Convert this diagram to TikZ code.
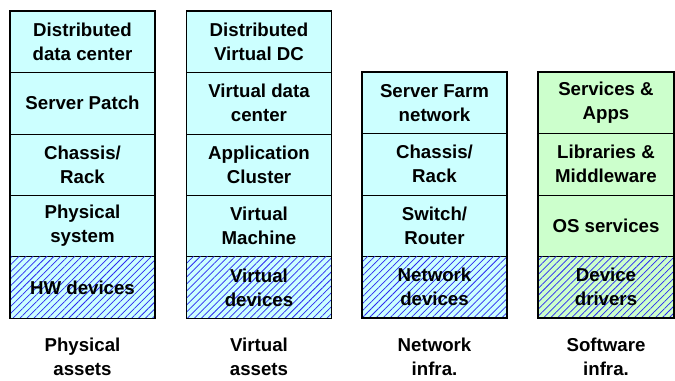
\documentclass[tikz,border=0pt]{standalone}
\usepackage{fontspec}
\setmainfont{Liberation Sans}
\usetikzlibrary{positioning, patterns.meta}

\definecolor{cellcyan}{HTML}{CCFFFF}
\definecolor{cellgreen}{HTML}{CCFFCC}
\definecolor{hatchblue}{HTML}{2A2AF0}

\tikzset{
    layer/.style={draw, fill=cellcyan, line width=0.6pt, outer sep=0pt, inner sep=1pt,
        minimum width=108.75pt, minimum height=46.1pt, align=center,
        font=\fontsize{14}{18}\selectfont\bfseries},
    swlayer/.style={layer, fill=cellgreen, minimum width=102pt},
    hatched/.style={postaction={pattern={Lines[angle=45, distance=3.7pt, line width=0.55pt]}, pattern color=hatchblue}},
    stackframe/.style={draw, line width=1.1pt},
    caption/.style={anchor=north, align=center, inner sep=0pt,
        font=\fontsize{14}{18}\selectfont\bfseries}
}

\begin{document}
\begin{tikzpicture}[x=0.75pt, y=-0.75pt, node distance=0pt]
            \useasboundingbox (0,0) rectangle (675,380);

            % physical assets
            \node[layer] (ddc) at (82.5,41.7) {Distributed\\data center};
            \node[layer, below=of ddc] (patch) {Server Patch};
            \node[layer, below=of patch] (rack) {Chassis/\\Rack};
            \node[layer, below=of rack] (psys) {Physical\\system};
            \node[layer, hatched, below=of psys] (hw) {HW devices};
            \draw[stackframe] (ddc.north west) rectangle (hw.south east);

            % virtual assets
            \node[layer] (vdc) at (259,41.7) {Distributed\\Virtual DC};
            \node[layer, below=of vdc] (vcenter) {Virtual data\\center};
            \node[layer, below=of vcenter] (cluster) {Application\\Cluster};
            \node[layer, below=of cluster] (vm) {Virtual\\Machine};
            \node[layer, hatched, below=of vm] (vdev) {Virtual\\devices};
            \draw[stackframe] (vdc.north west) rectangle (vdev.south east);

            % network infra
            \node[layer] (farm) at (434.5,102.7) {Server Farm\\network};
            \node[layer, below=of farm] (nrack) {Chassis/\\Rack};
            \node[layer, below=of nrack] (switch) {Switch/\\Router};
            \node[layer, hatched, below=of switch] (ndev) {Network\\devices};
            \draw[stackframe] (farm.north west) rectangle (ndev.south east);

            % software infra
            \node[swlayer] (apps) at (606,102.7) {Services \&\\Apps};
            \node[swlayer, below=of apps] (libs) {Libraries \&\\Middleware};
            \node[swlayer, below=of libs] (os) {OS services};
            \node[swlayer, hatched, below=of os] (drivers) {Device\\drivers};
            \draw[stackframe] (apps.north west) rectangle (drivers.south east);

            \node[caption] (physcap) at (82.5,338) {Physical\\assets};
            \node[caption] (virtcap) at (259,338) {Virtual\\assets};
            \node[caption] (netcap) at (434.5,338) {Network\\infra.};
            \node[caption] (swcap) at (606,338) {Software\\infra.};

        \end{tikzpicture}
\end{document}
